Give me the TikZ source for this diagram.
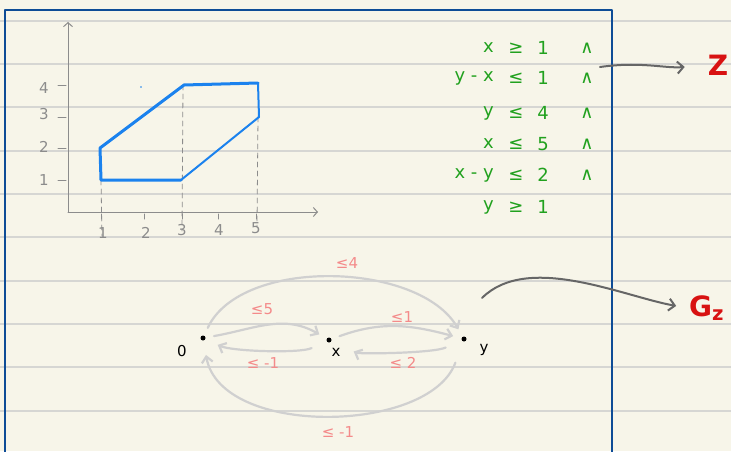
\documentclass[tikz,border=0pt]{standalone}
\usepackage{fontspec}
\setmainfont{DejaVu Sans}
\usetikzlibrary{arrows.meta}
\definecolor{paper}{HTML}{F7F5E9}
\definecolor{rule}{HTML}{D6D6D3}
\definecolor{margin}{HTML}{0E4C96}
\definecolor{axis}{HTML}{8C8C8C}
\definecolor{region}{HTML}{1B82EE}
\definecolor{constr}{HTML}{21A11E}
\definecolor{edgegray}{HTML}{D0D0D0}
\definecolor{weightred}{HTML}{F48A8A}
\definecolor{pointer}{HTML}{666666}
\definecolor{redink}{HTML}{D81212}
\tikzset{
  every picture/.style={line join=round, line cap=round, x=1pt, y=1pt},
  ruleline/.style={draw=rule, line width=1.3pt},
  marginline/.style={draw=margin, line width=1.8pt},
  axisline/.style={draw=axis, line width=1pt},
  axisarrow/.style={axisline, -{Straight Barb[length=4pt,width=9pt]}},
  guide/.style={draw=axis, line width=0.8pt, dash pattern=on 5pt off 4pt},
  regionline/.style={draw=region, line width=3pt},
  ticklabel/.style={text=axis, font=\fontsize{15}{15}\selectfont, inner sep=0pt},
  constraint/.style={text=constr, font=\fontsize{18}{18}\selectfont, inner sep=0pt},
  bigmark/.style={text=redink, font=\bfseries\fontsize{28}{28}\selectfont, inner sep=1pt},
  pointerline/.style={draw=pointer, line width=2pt, -{Straight Barb[length=6pt,width=12pt]}},
  vertex/.style={circle, minimum size=22pt, inner sep=0pt,
    path picture={\fill[black] (path picture bounding box.center) circle (2.5pt);}},
  vlabel/.style={font=\fontsize{15}{15}\selectfont, inner sep=0pt},
  dep/.style={draw=edgegray, line width=2.2pt, -{Straight Barb[length=6pt,width=11pt]}},
  weight/.style={text=weightred, font=\fontsize{15}{15}\selectfont, inner sep=0pt},
}

\begin{document}
\begin{tikzpicture}
\useasboundingbox (0,0) rectangle (731,451);
\fill[paper] (0,0) rectangle (731,451);
% ruled paper
\foreach \ry in {430,387,344,300,257,214,170,127,84,40}
  \draw[ruleline] (0,\ry) -- (731,\ry);
\draw[marginline] (5,-5) -- (5,441) -- (612,441) -- (612,-5);

% axes
\draw[axisarrow] (68,239) -- (68,429);
\draw[axisarrow] (68,239) -- (318,239);
\foreach \tx/\lx/\ly/\t [count=\i] in {101/103/218/1, 144/146/218/2, 182/182/221/3, 218/219/221/4, 256/256/223/5}{
  \draw[axisline] (\tx,237) -- (\tx,232);
  \node[ticklabel] (xt\i) at (\lx,\ly) {\t};
}
\foreach \ty/\ly/\t [count=\i] in {271/271/1, 303/304/2, 334/337/3, 366/363/4}{
  \draw[axisline] (58,\ty) -- (66,\ty);
  \node[ticklabel] (yt\i) at (44,\ly) {\t};
}
\draw[guide] (101,271) -- (102,215);
\draw[guide] (183,366) -- (182,220);
\draw[guide] (258,334) -- (257,225);

% feasible region
\draw[regionline] (181,271) -- (101,271) -- (100,303) -- (184,366) -- (258,368);
\draw[regionline, line width=2pt] (258,368) -- (259,334) -- (181,271);
\fill[region] (141,364) circle (0.8);

% constraints
\foreach \lhs/\rel/\rhs/\ry [count=\i] in {x/≥/1/403, y - x/≤/1/373, y/≤/4/338, x/≤/5/307, x - y/≤/2/276, y/≥/1/244}{
  \node[constraint, anchor=east] (lhs\i) at (494,\ry) {\lhs};
  \node[constraint] (rel\i) at (516,\ry) {\rel};
  \node[constraint] (rhs\i) at (543,\ry) {\rhs};
}
\foreach \ry [count=\i] in {403,373,338,307,276}
  \node[constraint] (and\i) at (587,\ry) {∧};

\node[bigmark] (zset) at (718,386) {Z};
\coordinate (zfrom) at (600,384);
\draw[pointerline, shorten >=22pt] (zfrom) to[out=8, in=185] (zset.west);

% constraint graph
\node[vertex] (o) at (203,113) {};
\node[vertex] (vx) at (329,111) {};
\node[vertex] (vy) at (464,112) {};
\node[vlabel] (lo) at (182,100) {0};
\node[vlabel] (lx) at (336,99) {x};
\node[vlabel] (ly) at (484,101) {y};

\draw[dep] (o) to[out=10, in=150] (vx);
\draw[dep, shorten <=8pt, shorten >=5pt] (vx) to[out=205, in=-25, looseness=0.5] (o);
\draw[dep] (vx) to[out=20, in=165] (vy);
\draw[dep, shorten <=9pt, shorten >=16pt] (vy) to[out=205, in=-25, looseness=0.5] (vx);
\draw[dep] (o) to[out=65, in=120, looseness=0.8] (vy);
\draw[dep, shorten <=14pt, shorten >=6pt] (vy) to[out=-110, in=-80, looseness=0.9] (o);

\node[weight] (w1) at (347,188) {≤4};
\node[weight] (w2) at (262,142) {≤5};
\node[weight] (w3) at (402,134) {≤1};
\node[weight] (w4) at (263,88) {≤ -1};
\node[weight] (w5) at (403,88) {≤ 2};
\node[weight] (w6) at (338,19) {≤ -1};

\node[bigmark, anchor=west] (gz) at (688,143) {G\textsubscript{z}};
\coordinate (gfrom) at (482,153);
\draw[pointerline, shorten >=12pt] (gfrom) to[out=45, in=170, looseness=0.8] (gz.west);
\end{tikzpicture}
\end{document}
